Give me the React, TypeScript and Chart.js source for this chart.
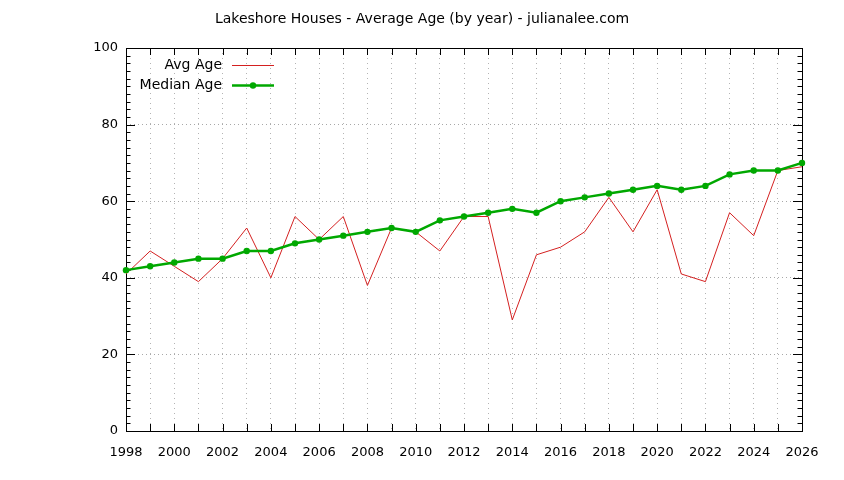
import React, { useEffect, useRef } from "react";
import { Chart, registerables } from "chart.js";

Chart.register(...registerables);

const TITLE = "Lakeshore Houses - Average Age (by year) - julianalee.com";
const years = [1998, 1999, 2000, 2001, 2002, 2003, 2004, 2005, 2006, 2007, 2008, 2009, 2010, 2011, 2012, 2013, 2014, 2015, 2016, 2017, 2018, 2019, 2020, 2021, 2022, 2023, 2024, 2025, 2026];
const avgAge = [41, 47, 43, 39, 45, 53, 40, 56, 50, 56, 38, 53, 52, 47, 56, 56, 29, 46, 48, 52, 61, 52, 63, 41, 39, 57, 51, 68, 69];
const medianAge = [42, 43, 44, 45, 45, 47, 47, 49, 50, 51, 52, 53, 52, 55, 56, 57, 58, 57, 60, 61, 62, 63, 64, 63, 64, 67, 68, 68, 70];
const seriesLabels = ["Avg Age", "Median Age"];
const seriesColors = ["#d42020", "#00a800"];

const FONT = "DejaVu Sans";

const framePlugin = {
  id: "gnuFrame",
  beforeDatasetsDraw(chart: any) {
    const { ctx, chartArea } = chart;
    const { left, right, top, bottom } = chartArea;
    const xs = chart.scales.x;
    const ys = chart.scales.y;
    ctx.save();
    ctx.strokeStyle = "#000";
    ctx.lineWidth = 1;
    ctx.beginPath();
    for (const t of xs.ticks) {
      const px = Math.round(xs.getPixelForValue(t.value)) + 0.5;
      const len = 7;
      ctx.moveTo(px, bottom);
      ctx.lineTo(px, bottom - len);
      ctx.moveTo(px, top);
      ctx.lineTo(px, top + len);
    }
    for (const t of ys.ticks) {
      const py = Math.round(ys.getPixelForValue(t.value)) + 0.5;
      const major = t.value % 20 === 0;
      const len = major ? 9 : 4.5;
      ctx.moveTo(left, py);
      ctx.lineTo(left + len, py);
      ctx.moveTo(right, py);
      ctx.lineTo(right - len, py);
    }
    ctx.stroke();
    ctx.strokeRect(Math.round(left) + 0.5, Math.round(top) + 0.5, Math.round(right - left), Math.round(bottom - top));
    ctx.restore();
  },
  afterDraw(chart: any) {
    const { ctx } = chart;
    const ds = chart.data.datasets;
    ctx.save();
    ctx.font = `14px "${FONT}"`;
    ctx.textAlign = "right";
    ctx.textBaseline = "middle";
    const rows = [65, 85];
    const textX = 222;
    const x1 = 232;
    const x2 = 274;
    seriesLabels.forEach((label, i) => {
      const d = ds.find((d: any) => d.label === label);
      const y = rows[i];
      ctx.fillStyle = "#000";
      ctx.fillText(label, textX, y);
      ctx.strokeStyle = d.borderColor;
      ctx.lineWidth = d.borderWidth;
      ctx.beginPath();
      ctx.moveTo(x1, y + 0.5);
      ctx.lineTo(x2, y + 0.5);
      ctx.stroke();
      if (d.pointRadius > 0) {
        ctx.fillStyle = d.pointBackgroundColor;
        ctx.beginPath();
        ctx.arc((x1 + x2) / 2, y + 0.5, d.pointRadius, 0, Math.PI * 2);
        ctx.fill();
      }
    });
    ctx.restore();
  },
};

export default function App() {
  const ref = useRef<HTMLCanvasElement | null>(null);

  useEffect(() => {
    document.body.style.margin = "0";
    Chart.defaults.font.family = FONT;
    Chart.defaults.font.size = 13;
    Chart.defaults.color = "#000";
    const canvas = ref.current;
    if (!canvas) return;
    const chart = new Chart(canvas, {
      type: "line",
      data: {
        datasets: [
          {
            label: seriesLabels[0],
            data: years.map((y, i) => ({ x: y, y: avgAge[i] })),
            borderColor: seriesColors[0],
            backgroundColor: seriesColors[0],
            borderWidth: 1,
            pointRadius: 0,
            pointBackgroundColor: seriesColors[0],
            tension: 0,
            order: 2,
          },
          {
            label: seriesLabels[1],
            data: years.map((y, i) => ({ x: y, y: medianAge[i] })),
            borderColor: seriesColors[1],
            backgroundColor: seriesColors[1],
            borderWidth: 2.5,
            pointRadius: 3.2,
            pointBorderWidth: 0,
            pointBackgroundColor: seriesColors[1],
            tension: 0,
            clip: false,
            order: 1,
          },
        ],
      },
      options: {
        responsive: false,
        animation: false,
        layout: { padding: 0 },
        plugins: {
          legend: { display: false },
          tooltip: { enabled: false },
          title: {
            display: true,
            text: TITLE,
            color: "#000",
            font: { family: FONT, size: 14, weight: "normal" },
            padding: { top: 10.6, bottom: 20.6 },
          },
        },
        scales: {
          x: {
            type: "linear",
            min: 1998,
            max: 2026,
            afterFit: (s: any) => {
              s.height = 49;
            },
            ticks: {
              stepSize: 1,
              autoSkip: false,
              minRotation: 0,
              maxRotation: 0,
              padding: 14,
              color: "#000",
              font: { family: FONT, size: 13 },
              callback: (v: any) => (Number(v) % 2 === 0 ? String(v) : ""),
            },
            grid: {
              drawTicks: false,
              color: "#b4b4b4",
              lineWidth: 1,
            },
            border: { display: false, dash: [1, 4] },
          },
          y: {
            type: "linear",
            min: 0,
            max: 100,
            afterFit: (s: any) => {
              s.width = 126;
            },
            ticks: {
              stepSize: 2,
              autoSkip: false,
              padding: 8,
              color: "#000",
              font: { family: FONT, size: 13 },
              callback: (v: any) => (Number(v) % 20 === 0 ? String(v) : ""),
            },
            grid: {
              drawTicks: false,
              lineWidth: 1,
              color: (c: any) =>
                c.tick && c.tick.value % 20 === 0 ? "#a8a8a8" : "rgba(0,0,0,0)",
            },
            border: { display: false, dash: [1, 3] },
          },
          y2: {
            type: "linear",
            position: "right",
            display: true,
            afterFit: (s: any) => {
              s.width = 42;
            },
            ticks: { display: false },
            grid: { display: false, drawOnChartArea: false },
            border: { display: false },
          },
        },
      },
      plugins: [framePlugin],
    } as any);
    return () => chart.destroy();
  }, []);

  return (
    <div style={{ width: 844, height: 480, background: "#fff" }}>
      <canvas ref={ref} width={844} height={480} />
    </div>
  );
}
